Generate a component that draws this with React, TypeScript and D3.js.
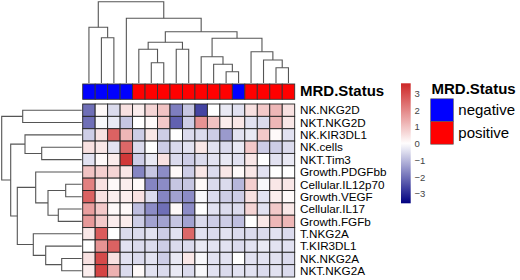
import React from "react";
import * as d3 from "d3";

const rowLabels = [
  "NK.NKG2D", "NKT.NKG2D", "NK.KIR3DL1", "NK.cells", "NKT.Tim3", "Growth.PDGFbb",
  "Cellular.IL12p70", "Growth.VEGF", "Cellular.IL17", "Growth.FGFb", "T.NKG2A",
  "T.KIR3DL1", "NK.NKG2A", "NKT.NKG2A",
];

const mrdStatus = [
  "negative", "negative", "negative", "negative",
  "positive", "positive", "positive", "positive", "positive", "positive", "positive", "positive",
  "negative",
  "positive", "positive", "positive", "positive",
];

const r0 = [-2.0, 0.1, -0.5, 0.5, 0.3, 0.7, 1.0, -1.8, -0.8, -2.6, 0.0, -0.3, -0.4, 0.5, 0.9, 1.2, 0.5];
const r1 = [-2.0, -0.1, -0.3, -0.8, 0.0, 0.1, 0.9, -2.2, -0.7, 1.8, 1.0, 0.3, 0.4, -0.4, -0.5, 1.2, 0.4];
const r2 = [-0.7, 0.5, 2.6, 1.2, -0.7, 0.4, -0.7, 0.0, -0.5, -0.5, -0.7, -1.4, -0.4, -0.3, 0.9, 0.1, -0.4];
const r3 = [0.5, 0.4, -0.4, 2.5, -0.5, 0.0, -0.7, -0.5, -0.4, 0.4, -0.4, -0.5, -0.3, 0.9, -0.7, -0.7, -0.5];
const r4 = [-0.4, 0.1, 0.3, 3.3, -0.7, -0.3, 0.5, -0.5, -0.7, -0.5, -0.4, -0.3, -0.4, 0.4, 0.0, -0.4, -0.3];
const r5 = [1.0, 0.8, 0.7, 0.4, -1.7, -0.8, -1.6, 0.1, -0.7, 0.4, -0.5, 0.4, 0.1, 0.4, -0.4, 0.0, 0.0];
const r6 = [2.1, 0.5, 0.1, 0.3, 0.1, -1.7, -1.6, -0.8, -0.8, 0.1, -0.5, -0.5, -1.0, 0.8, -0.1, 0.4, 0.4];
const r7 = [2.6, 0.5, 0.3, 0.3, 0.5, -0.5, -1.7, -1.3, -1.6, -0.1, -0.5, -0.7, -0.7, 0.5, -0.4, 0.3, 0.1];
const r8 = [1.6, 0.9, 0.1, 0.1, -0.9, -1.6, -2.0, 0.1, -1.6, 0.0, -0.4, -0.5, -0.5, 0.7, -0.4, 0.9, 0.4];
const r9 = [1.7, 0.9, 0.3, 0.3, -0.7, -1.3, -1.3, -0.8, -1.3, -0.5, -0.7, -0.7, -0.9, 0.0, 0.4, 1.2, 1.2];
const r10 = [0.4, 2.7, 0.0, -0.5, -0.5, -0.4, -0.7, -0.4, 2.5, -0.4, -0.5, -0.4, -0.5, -0.5, -0.5, -0.4, -0.5];
const r11 = [0.0, 1.8, 2.6, -0.4, -0.5, -0.5, -0.7, -0.5, -0.5, -0.3, -0.4, -0.4, -0.5, -0.4, -0.3, -0.4, -0.4];
const r12 = [0.5, 3.0, 0.5, -0.4, -0.5, -0.4, -0.7, -0.3, 0.4, -0.1, -0.4, -0.4, 0.0, -0.4, -0.4, -0.4, -0.5];
const r13 = [0.3, 3.1, 1.3, -0.5, 0.1, -0.4, -0.5, -0.3, -0.5, -0.1, -0.4, -0.5, -0.4, -0.4, -0.5, -0.4, -0.5];
const values = [r0, r1, r2, r3, r4, r5, r6, r7, r8, r9, r10, r11, r12, r13];

const legendTicks = [3, 2, 1, 0, -1, -2, -3];

// dendrograms: [height, left, right]; leaves are column/row indices
const colTree: any = [81.3,
  [55.7, 0, [45.3, 1, 2]],
  [64.7, 3,
    [51.3,
      [40.7, [33.7, 4, [20.3, 5, 6]], [33.7, 7, 8]],
      [44.7, [26.3, 9, [18.7, 10, [11.3, 11, 12]]], [31.3, 13, [23, 14, [15.3, 15, 16]]]],
    ],
  ],
];
const rowTree: any = [80,
  [59, 0, 1],
  [71,
    [56.7, 2, [40, 3, 4]],
    [64.4,
      [46, 5, [33.7, [16, 6, 7], [23.4, 8, 9]]],
      [48.4, 10, [36, 11, [20, 12, 13]]],
    ],
  ],
];

const statusColor: Record<string, string> = { negative: "#0000FF", positive: "#FF0000" };

const FONT = "'Liberation Sans', Arial, sans-serif";

function buildDendro(tree: any, leafPos: (i: number) => number, hScale: (h: number) => number, vertical: boolean) {
  const segs: string[] = [];
  function walk(node: any): { p: number; h: number } {
    if (typeof node === "number") return { p: leafPos(node), h: 0 };
    const [h, a, b] = node;
    const A = walk(a);
    const B = walk(b);
    const H = hScale(h);
    const ha = hScale(A.h);
    const hb = hScale(B.h);
    if (vertical) {
      segs.push(`M${A.p},${ha}V${H}H${B.p}V${hb}`);
    } else {
      segs.push(`M${ha},${A.p}H${H}V${B.p}H${hb}`);
    }
    return { p: (A.p + B.p) / 2, h };
  }
  walk(tree);
  return segs;
}

export default function App() {
  const W = 520, H = 280;
  const nCol = mrdStatus.length;
  const nRow = rowLabels.length;
  const gx0 = 82.7, gx1 = 294.7;
  const gy0 = 104, gy1 = 277;
  const x = d3.scaleBand<number>().domain(d3.range(nCol)).range([gx0, gx1]);
  const y = d3.scaleBand<number>().domain(d3.range(nRow)).range([gy0, gy1]);

  const color = d3.scaleLinear<string>()
    .domain([-3.55, 0, 3.6])
    .range(["#000080", "#FFFFFF", "#CD2626"])
    .interpolate(d3.interpolateRgb)
    .clamp(true);

  const colH = d3.scaleLinear().domain([0, 81.3]).range([83, 1.7]);
  const rowH = d3.scaleLinear().domain([0, 80]).range([81.7, 1.7]);
  const colSegs = buildDendro(colTree, (i) => x(i)! + x.bandwidth() / 2, colH, true);
  const rowSegs = buildDendro(rowTree, (i) => y(i)! + y.bandwidth() / 2, rowH, false);

  const annY0 = 84, annY1 = 99.3;

  const cbX = 401, cbW = 9.7, cbY0 = 83.3, cbY1 = 203.3;
  const cbScale = d3.scaleLinear().domain([3.6, -3.55]).range([cbY0, cbY1]);
  const gradStops = d3.range(0, 1.0001, 0.05).map((t) => ({
    t,
    c: color(cbScale.invert(cbY0 + t * (cbY1 - cbY0))),
  }));

  const legX = 430.7, legW = 22.6, legY0 = 98.8, legBoxH = 22.7;
  const legendItems = ["negative", "positive"];

  return (
    <svg width={W} height={H} style={{ position: "absolute", left: 0, top: 0, background: "#fff" }}>
      <defs>
        <linearGradient id="cb" x1="0" y1="0" x2="0" y2="1">
          {gradStops.map((s, i) => (
            <stop key={i} offset={s.t} stopColor={s.c} />
          ))}
        </linearGradient>
      </defs>
      <g fill="none" stroke="#555" strokeWidth={1.1}>
        {colSegs.map((d, i) => <path key={"c" + i} d={d} />)}
        {rowSegs.map((d, i) => <path key={"r" + i} d={d} />)}
      </g>
      <g stroke="#333" strokeWidth={0.9}>
        {mrdStatus.map((s, j) => (
          <rect key={"a" + j} x={x(j)} y={annY0} width={x.bandwidth()} height={annY1 - annY0} fill={statusColor[s]} />
        ))}
      </g>
      <g stroke="#222" strokeWidth={0.9}>
        {values.map((row, i) =>
          row.map((v, j) => (
            <rect key={i + "-" + j} x={x(j)} y={y(i)} width={x.bandwidth()} height={y.bandwidth()} fill={color(v)} />
          ))
        )}
      </g>
      <text x={300} y={96} fontFamily={FONT} fontWeight="bold" fontSize={15} fill="#000">MRD.Status</text>
      <g fontFamily={FONT} fontSize={11.7} fill="#000">
        {rowLabels.map((l, i) => (
          <text key={l} x={300} y={y(i)! + y.bandwidth() / 2 + 4.2}>{l}</text>
        ))}
      </g>
      <rect x={cbX} y={cbY0} width={cbW} height={cbY1 - cbY0} fill="url(#cb)" />
      <g fontFamily={FONT} fontSize={9.5} fill="#444">
        {legendTicks.map((t) => (
          <text key={t} x={414.5} y={cbScale(t) + 3.4}>{t < 0 ? "\u2212" + Math.abs(t) : String(t)}</text>
        ))}
      </g>
      <text x={431.5} y={94} fontFamily={FONT} fontWeight="bold" fontSize={15} fill="#000">MRD.Status</text>
      <g>
        {legendItems.map((s, i) => (
          <g key={s}>
            <rect x={legX} y={legY0 + i * legBoxH} width={legW} height={legBoxH} fill={statusColor[s]} stroke="#555" strokeWidth={0.6} />
            <text x={458.3} y={legY0 + i * legBoxH + 16} fontFamily={FONT} fontSize={15} fill="#000">{s}</text>
          </g>
        ))}
      </g>
    </svg>
  );
}
